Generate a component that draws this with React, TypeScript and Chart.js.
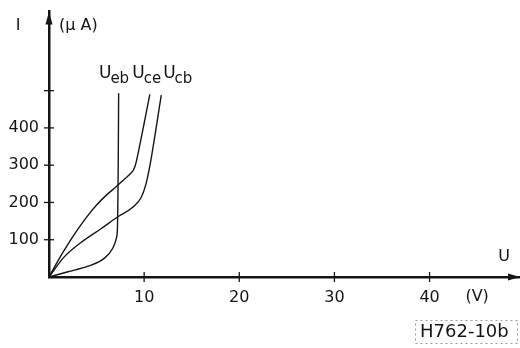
import React, { useEffect, useRef } from "react";
import { Chart, registerables } from "chart.js";

Chart.register(...registerables);

// Axis ticks
const xTicks = [10, 20, 30, 40];
const yTicks = [100, 200, 300, 400, 500];
const yTickLabels = ["100", "200", "300", "400", ""];

// U_eb curve (V, µA)
const uebV = [0, 2, 4.1, 5.8, 6.7, 7.07, 7.2, 7.25, 7.28, 7.32];
const uebI = [0, 14, 29, 50, 77, 103, 134, 223, 312, 493];

// U_ce curve
const uceV = [0, 1, 2, 3, 4, 5, 6, 7, 8, 8.85, 9.2, 10.6];
const uceI = [0, 46, 88, 127, 162, 193, 219, 241, 264, 286, 312, 490];

// U_cb curve
const ucbV = [0, 1.6, 3.7, 5.5, 7.2, 8.8, 9.7, 10.2, 10.5, 10.7, 11.8];
const ucbI = [0, 54, 99, 130, 161, 187, 214, 250, 285, 312, 488];

// Curve labels: main letter, subscript, anchor (V, µA)
const curveLabels = [
  { main: "U", sub: "eb", v: 5.25, i: 533 },
  { main: "U", sub: "ce", v: 8.75, i: 533 },
  { main: "U", sub: "cb", v: 12.0, i: 533 },
];

const FONT = "'DejaVu Sans', sans-serif";
const INK = "#151515";

const toPts = (xs: number[], ys: number[]) => xs.map((x, k) => ({ x, y: ys[k] }));

const decorPlugin = {
  id: "decor",
  afterDraw(chart: any) {
    const { ctx, chartArea, scales } = chart;
    const xs = scales.x;
    const ys = scales.y;
    const left = chartArea.left;
    const bottom = chartArea.bottom;
    ctx.save();
    ctx.fillStyle = INK;
    ctx.strokeStyle = INK;

    // y arrow
    ctx.beginPath();
    ctx.moveTo(left, chartArea.top);
    ctx.lineTo(left - 3.5, chartArea.top + 13);
    ctx.lineTo(left + 3.5, chartArea.top + 13);
    ctx.closePath();
    ctx.fill();
    // x arrow
    ctx.beginPath();
    ctx.moveTo(chartArea.right + 1, bottom);
    ctx.lineTo(chartArea.right - 11, bottom - 3.5);
    ctx.lineTo(chartArea.right - 11, bottom + 3.5);
    ctx.closePath();
    ctx.fill();

    // tick crosses
    ctx.lineWidth = 1.3;
    xTicks.forEach((v) => {
      const p = xs.getPixelForValue(v);
      ctx.beginPath();
      ctx.moveTo(p, bottom - 5);
      ctx.lineTo(p, bottom + 5);
      ctx.stroke();
    });
    yTicks.forEach((v) => {
      const p = ys.getPixelForValue(v);
      ctx.beginPath();
      ctx.moveTo(left - 5, p);
      ctx.lineTo(left + 5, p);
      ctx.stroke();
    });

    // axis titles
    ctx.font = `16px ${FONT}`;
    ctx.textBaseline = "middle";
    ctx.textAlign = "center";
    ctx.fillText("I", 18, chartArea.top + 14);
    ctx.textAlign = "left";
    ctx.fillText("(\u03bc A)", left + 10, chartArea.top + 14);

    ctx.textAlign = "center";
    ctx.fillText("U", chartArea.right - 15, bottom - 20);
    ctx.fillText("(V)", xs.getPixelForValue(45), bottom + 20);

    // curve labels
    curveLabels.forEach((l) => {
      const px = xs.getPixelForValue(l.v);
      const py = ys.getPixelForValue(l.i);
      ctx.textAlign = "left";
      ctx.textBaseline = "alphabetic";
      ctx.font = `17px ${FONT}`;
      ctx.fillText(l.main, px, py);
      const w = ctx.measureText(l.main).width;
      ctx.font = `15px ${FONT}`;
      ctx.fillText(l.sub, px + w - 1, py + 5);
    });

    // reference code box
    const bx = chart.width - 105;
    const by = chart.height - 28;
    ctx.setLineDash([2, 3]);
    ctx.strokeStyle = "#9a9a9a";
    ctx.lineWidth = 1;
    ctx.strokeRect(bx + 0.5, by + 0.5, 102, 23);
    ctx.setLineDash([]);
    ctx.font = `18px ${FONT}`;
    ctx.textAlign = "left";
    ctx.textBaseline = "middle";
    ctx.fillStyle = INK;
    ctx.fillText("H762-10b", bx + 5, by + 12);
    ctx.restore();
  },
};

export default function App() {
  const ref = useRef<HTMLCanvasElement>(null);
  useEffect(() => {
    if (!ref.current) return;
    const lineStyle = {
      borderColor: INK,
      borderWidth: 1.4,
      pointRadius: 0,
      fill: false,
    };
    const chart = new Chart(ref.current, {
      type: "line",
      data: {
        datasets: [
          { label: "Ueb", data: toPts(uebV, uebI), cubicInterpolationMode: "monotone" as const, ...lineStyle },
          { label: "Uce", data: toPts(uceV, uceI), tension: 0.3, ...lineStyle },
          { label: "Ucb", data: toPts(ucbV, ucbI), cubicInterpolationMode: "monotone" as const, ...lineStyle },
        ],
      },
      options: {
        animation: false,
        responsive: true,
        maintainAspectRatio: false,
        layout: { padding: { top: 0, right: 1, left: 0, bottom: 0 } },
        plugins: { legend: { display: false }, tooltip: { enabled: false } },
        scales: {
          x: {
            type: "linear",
            min: 0,
            max: 49.4,
            grid: { display: false },
            border: { display: true, color: INK, width: 2.5 },
            ticks: {
              autoSkip: false,
              maxRotation: 0,
              padding: 3,
              color: INK,
              font: { family: FONT, size: 16 },
              callback: (v: any) => String(v),
            },
            afterBuildTicks: (s: any) => {
              s.ticks = xTicks.map((v) => ({ value: v }));
            },
            afterFit: (s: any) => {
              s.height = 71;
            },
          },
          y: {
            type: "linear",
            min: 0,
            max: 712,
            grid: { display: false },
            border: { display: true, color: INK, width: 2.5 },
            ticks: {
              autoSkip: false,
              padding: 2,
              color: INK,
              font: { family: FONT, size: 16 },
              callback: (_v: any, i: number) => yTickLabels[i],
            },
            afterBuildTicks: (s: any) => {
              s.ticks = yTicks.map((v) => ({ value: v }));
            },
            afterFit: (s: any) => {
              s.width = 49;
            },
          },
        },
      },
      plugins: [decorPlugin],
    });
    return () => chart.destroy();
  }, []);
  return (
    <div style={{ position: "absolute", left: 0, top: 0, width: 520, height: 348, background: "#fff" }}>
      <canvas ref={ref} />
    </div>
  );
}
